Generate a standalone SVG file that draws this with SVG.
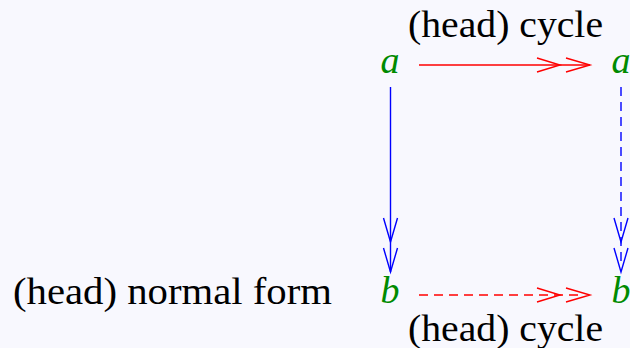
<svg xmlns="http://www.w3.org/2000/svg" width="630" height="348" viewBox="0 0 630 348">
<style>
.t{font-family:'Liberation Serif','Times New Roman',serif;font-size:38px;fill:#000}
.v{font-style:italic;fill:#008a00;text-anchor:middle}
.r{stroke:#ff0000;stroke-width:1.4;fill:none}
.b{stroke:#0000ff;stroke-width:1.4;fill:none}
.d{stroke-dasharray:9 6}
</style>
<rect width="630" height="348" fill="#f8f8fe"/>
<g id="node-a1"><text class="t v" x="390" y="73">a</text></g>
<g id="node-a2"><text class="t v" x="621" y="73">a</text></g>
<g id="node-b1"><text class="t v" x="390" y="303">b</text></g>
<g id="node-b2"><text class="t v" x="621" y="303">b</text></g>
<g id="labels">
<text class="t" x="408" y="37" textLength="195" lengthAdjust="spacingAndGlyphs">(head) cycle</text>
<text class="t" x="408" y="341" textLength="195" lengthAdjust="spacingAndGlyphs">(head) cycle</text>
<text class="t" x="13" y="304" textLength="319" lengthAdjust="spacingAndGlyphs">(head) normal form</text>
</g>
<g id="connectors">
<path class="r" d="M419 65H590"/>
<path class="r" d="M537 58L560 65L537 72M566 58L590 65L566 72"/>
<path class="r d" d="M419 295H584"/>
<path class="r" d="M537 288L560 295L537 302M566 288L590 295L566 302"/>
<path class="b" d="M390.5 87V272"/>
<path class="b" d="M383.5 218L390.5 242L397.5 218M383.5 248L390.5 272L397.5 248"/>
<path class="b d" d="M621 87V266"/>
<path class="b" d="M614 218L621 242L628 218M614 248L621 272L628 248"/>
</g>
</svg>
